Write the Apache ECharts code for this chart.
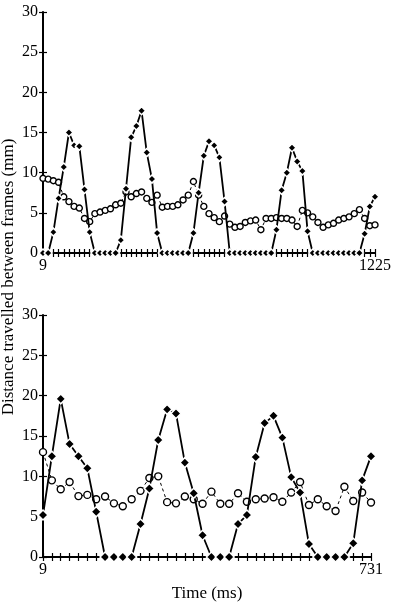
<!DOCTYPE html>
<html>
<head>
<meta charset="utf-8">
<title>Distance travelled between frames</title>
<script src="https://cdn.jsdelivr.net/npm/echarts@6/dist/echarts.min.js"></script>
<style>
	html, body { margin: 0; padding: 0; background: #fff; }
	#main { width: 395px; height: 608px; }
</style>
</head>
<body>
<div id="main"></div>
<script>
// upper trial: 9 .. 1225 ms
const topTimes = [9, 28, 47, 66, 85, 104, 123, 142, 161, 180, 199, 218, 237, 256, 275, 294, 313, 332, 351, 370,
	389, 408, 427, 446, 465, 484, 503, 522, 541, 560, 579, 598, 617, 636, 655, 674, 693, 712, 731, 750,
	769, 788, 807, 826, 845, 864, 883, 902, 921, 940, 959, 978, 997, 1016, 1035, 1054, 1073, 1092, 1111, 1130,
	1149, 1168, 1187, 1206, 1225];
const topFilled = [0, 0, 2.6, 6.8, 10.7, 15.0, 13.4, 13.3, 7.9, 2.6,
	0, 0, 0, 0, 0, 1.6, 8.0, 14.4, 15.8, 17.7,
	12.5, 9.2, 2.5, 0, 0, 0, 0, 0, 0, 2.5,
	7.5, 12.1, 13.9, 13.4, 11.9, 6.4, 0, 0, 0, 0,
	0, 0, 0, 0, 0, 2.9, 7.8, 10.0, 13.1, 11.4,
	10.2, 2.7, 0, 0, 0, 0, 0, 0, 0, 0,
	0, 0, 2.4, 5.8, 7.0];
const topOpen = [9.3, 9.2, 9.0, 8.8, 7.0, 6.4, 5.8, 5.6, 4.3, 3.9,
	4.9, 5.1, 5.3, 5.5, 6.0, 6.2, 7.6, 7.0, 7.4, 7.6,
	6.8, 6.3, 7.2, 5.7, 5.8, 5.8, 6.0, 6.6, 7.2, 8.9,
	7.2, 5.8, 4.9, 4.4, 3.9, 4.6, 3.6, 3.2, 3.3, 3.8,
	4.0, 4.1, 2.9, 4.3, 4.3, 4.4, 4.3, 4.3, 4.1, 3.3,
	5.3, 5.0, 4.5, 3.8, 3.2, 3.5, 3.7, 4.1, 4.3, 4.5,
	4.9, 5.4, 4.3, 3.4, 3.5];

// lower trial: 9 .. 731 ms
const bottomTimes = [9, 29, 48, 68, 87, 107, 126, 146, 165, 185, 204, 224, 243, 263, 282, 302, 321, 341, 360, 380,
	399, 419, 438, 458, 477, 497, 516, 536, 555, 575, 594, 614, 633, 653, 672, 692, 711, 731];
const bottomFilled = [5.2, 12.5, 19.6, 14.0, 12.5, 11.0, 5.6, 0, 0, 0,
	0, 4.1, 8.5, 14.5, 18.3, 17.8, 11.7, 7.9, 2.7, 0,
	0, 0, 4.1, 5.2, 12.4, 16.6, 17.5, 14.8, 9.9, 8.0,
	1.6, 0, 0, 0, 0, 1.7, 9.5, 12.5];
const bottomOpen = [13.0, 9.5, 8.4, 9.3, 7.55, 7.7, 7.15, 7.5, 6.65, 6.3,
	7.15, 8.2, 9.8, 10.0, 6.8, 6.65, 7.5, 7.15, 6.6, 8.1,
	6.6, 6.6, 7.9, 6.85, 7.15, 7.25, 7.4, 6.85, 8.0, 9.3,
	6.45, 7.15, 6.3, 5.7, 8.7, 6.95, 8.0, 6.75];

const yMin = 0;
const yMax = 30;
const yStep = 5;

const font = 'Liberation Serif';

// two x axes per grid so the ticks cross the axis line
function makeXAxes(gridIndex, times, withName) {
	let last = times.length - 1;
	let main = {
		gridIndex: gridIndex,
		type: 'category',
		position: 'bottom',
		data: times,
		boundaryGap: false,
		axisLine: { lineStyle: { color: '#000', width: 2 } },
		axisTick: { interval: 0, length: 4, lineStyle: { color: '#000', width: 1.2 } },
		axisLabel: {
			interval: function (idx) { return idx === 0 || idx === last; },
			color: '#000',
			fontFamily: font,
			fontSize: 16,
			margin: 5
		},
		splitLine: { show: false }
	};
	if (withName) {
		main.name = 'Time (ms)';
		main.nameLocation = 'middle';
		main.nameGap = 28;
		main.nameTextStyle = { color: '#000', fontFamily: font, fontSize: 17 };
	}
	let inner = {
		gridIndex: gridIndex,
		type: 'category',
		position: 'bottom',
		data: times,
		boundaryGap: false,
		axisLine: { show: false },
		axisTick: { inside: true, interval: 0, length: 4, lineStyle: { color: '#000', width: 1.2 } },
		axisLabel: { show: false },
		splitLine: { show: false }
	};
	return [main, inner];
}

function makeYAxes(gridIndex) {
	let main = {
		gridIndex: gridIndex,
		type: 'value',
		position: 'left',
		min: yMin,
		max: yMax,
		interval: yStep,
		axisLine: { show: true, lineStyle: { color: '#000', width: 2 } },
		axisTick: { show: true, length: 4, lineStyle: { color: '#000', width: 1.2 } },
		axisLabel: { color: '#000', fontFamily: font, fontSize: 16, margin: 5 },
		splitLine: { show: false }
	};
	let inner = {
		gridIndex: gridIndex,
		type: 'value',
		position: 'left',
		min: yMin,
		max: yMax,
		interval: yStep,
		axisLine: { show: false },
		axisTick: { show: true, inside: true, length: 4, lineStyle: { color: '#000', width: 1.2 } },
		axisLabel: { show: false },
		splitLine: { show: false }
	};
	return [main, inner];
}

function openSeries(axisIndex, data, size) {
	return {
		type: 'line',
		xAxisIndex: axisIndex,
		yAxisIndex: axisIndex,
		data: data,
		symbol: 'circle',
		symbolSize: size,
		showAllSymbol: true,
		itemStyle: { color: '#fff', borderColor: '#000', borderWidth: 1.4 },
		lineStyle: { color: '#000', width: 1, type: [3, 3] },
		z: 2
	};
}

function filledSeries(axisIndex, data, size) {
	return {
		type: 'line',
		xAxisIndex: axisIndex,
		yAxisIndex: axisIndex,
		data: data,
		symbol: 'diamond',
		symbolSize: size,
		showAllSymbol: true,
		itemStyle: { color: '#000', borderColor: '#fff', borderWidth: 1.5 },
		lineStyle: { color: '#000', width: 1.8 },
		z: 3
	};
}

const chart = echarts.init(document.getElementById('main'), null, { renderer: 'canvas' });

let option = {
	backgroundColor: '#fff',
	animation: false,
	grid: [
		{ left: 43, right: 20, top: 12, height: 241 },
		{ left: 43, right: 24, top: 315, height: 242 }
	],
	xAxis: makeXAxes(0, topTimes, false).concat(makeXAxes(1, bottomTimes, true)),
	yAxis: makeYAxes(0).concat(makeYAxes(1)),
	graphic: [{
		type: 'text',
		x: 9,
		y: 277,
		rotation: Math.PI / 2,
		style: {
			text: 'Distance travelled between frames (mm)',
			fill: '#000',
			font: '17px "Liberation Serif"',
			textAlign: 'center',
			textVerticalAlign: 'middle'
		}
	}],
	series: [
		openSeries(0, topOpen, 6),
		filledSeries(0, topFilled, 8),
		openSeries(2, bottomOpen, 7),
		filledSeries(2, bottomFilled, 10)
	]
};

chart.setOption(option);
</script>
</body>
</html>
